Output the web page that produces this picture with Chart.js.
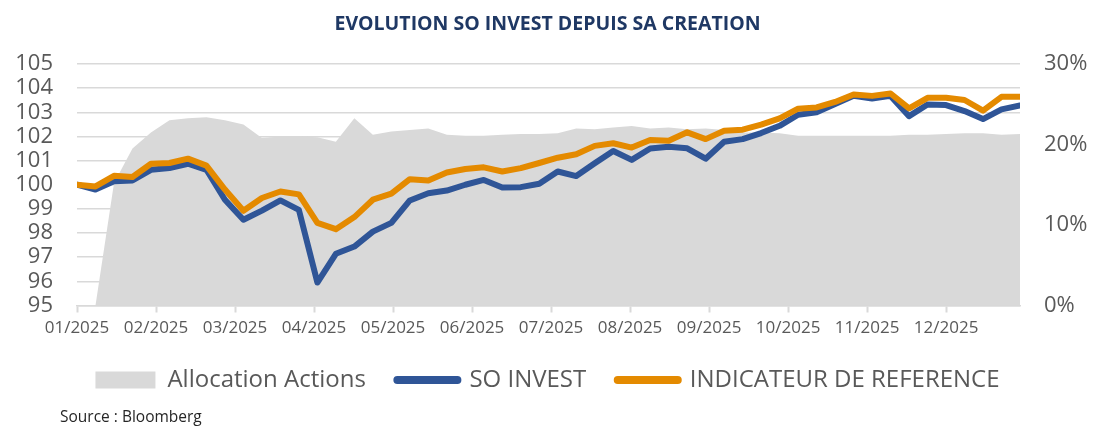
<!DOCTYPE html>
<html>
<head>
<meta charset="utf-8">
<script src="https://cdn.jsdelivr.net/npm/chart.js@4"></script>
<style>
  html, body { margin: 0; padding: 0; background: #fff; }
  #wrap { width: 1095px; height: 426px; position: relative; }
</style>
</head>
<body>
<div id="wrap"><canvas id="chart"></canvas></div>
<script>
// weekly values
const soInvest = [
    100.0, 99.8, 100.14, 100.18, 100.62, 100.69, 100.87, 100.62, 99.38, 98.55,
    98.93, 99.35, 98.96, 95.95, 97.14, 97.44, 98.06, 98.42, 99.35, 99.65,
    99.76, 100.0, 100.2, 99.89, 99.9, 100.04, 100.55, 100.36, 100.89, 101.4,
    101.03, 101.5, 101.57, 101.51, 101.08, 101.78, 101.89, 102.14, 102.44, 102.9,
    103.0, 103.34, 103.68, 103.57, 103.68, 102.84, 103.32, 103.3, 103.05, 102.72,
    103.12, 103.28
];
const indicateur = [
    100.0, 99.93, 100.37, 100.32, 100.87, 100.9, 101.08, 100.79, 99.8, 98.92,
    99.45, 99.72, 99.6, 98.42, 98.16, 98.66, 99.38, 99.63, 100.23, 100.18,
    100.51, 100.65, 100.72, 100.55, 100.69, 100.9, 101.12, 101.26, 101.61, 101.72,
    101.54, 101.85, 101.82, 102.17, 101.89, 102.24, 102.28, 102.49, 102.75, 103.15,
    103.2, 103.43, 103.74, 103.68, 103.78, 103.16, 103.6, 103.6, 103.51, 103.07,
    103.64, 103.64
];
// allocation actions in %
const allocation = [
    0, 0, 15.2, 19.5, 21.5, 23.0, 23.25, 23.4, 23.0, 22.5,
    20.8, 21.0, 21.0, 20.9, 20.35, 23.25, 21.2, 21.6, 21.8, 22.0,
    21.2, 21.1, 21.1, 21.2, 21.3, 21.3, 21.4, 22.0, 21.9, 22.1,
    22.3, 22.0, 22.1, 21.9, 22.0, 21.8, 21.5, 21.5, 21.4, 21.1,
    21.1, 21.1, 21.1, 21.1, 21.1, 21.2, 21.2, 21.3, 21.4, 21.4,
    21.2, 21.3
];
const weekIndex = soInvest.map((v, i) => i);
const monthLabels = ['01/2025', '02/2025', '03/2025', '04/2025', '05/2025', '06/2025',
    '07/2025', '08/2025', '09/2025', '10/2025', '11/2025', '12/2025'];
const WEEKS_PER_MONTH = 4.273;

const titleText = 'EVOLUTION SO INVEST DEPUIS SA CREATION';
const sourceText = 'Source : Bloomberg';

const BLUE = '#2F5597';
const ORANGE = '#E48A00';
const GRAY = '#D9D9D9';
const TEXT = '#595959';

Chart.defaults.font.family = "'Open Sans', sans-serif";

const sourcePlugin = {
    id: 'sourceNote',
    afterDraw(chart) {
        const c = chart.ctx;
        c.save();
        c.font = "15.5px 'Open Sans', sans-serif";
        c.fillStyle = '#262626';
        c.textBaseline = 'middle';
        c.textAlign = 'left';
        c.fillText(sourceText, 60, 418);
        c.restore();
    }
};

const ctx = document.getElementById('chart').getContext('2d');
new Chart(ctx, {
    type: 'line',
    data: {
        labels: weekIndex,
        datasets: [
            {
                label: 'SO INVEST',
                data: soInvest,
                yAxisID: 'y',
                borderColor: BLUE,
                backgroundColor: BLUE,
                borderWidth: 6,
                borderJoinStyle: 'round',
                borderCapStyle: 'round',
                pointRadius: 0,
                tension: 0,
                order: 2
            },
            {
                label: 'INDICATEUR DE REFERENCE',
                data: indicateur,
                yAxisID: 'y',
                borderColor: ORANGE,
                backgroundColor: ORANGE,
                borderWidth: 6,
                borderJoinStyle: 'round',
                borderCapStyle: 'round',
                pointRadius: 0,
                tension: 0,
                order: 1
            },
            {
                label: 'Allocation Actions',
                data: allocation,
                yAxisID: 'y1',
                backgroundColor: GRAY,
                borderColor: GRAY,
                borderWidth: 0,
                fill: 'origin',
                pointRadius: 0,
                tension: 0,
                order: 3
            }
        ]
    },
    options: {
        responsive: true,
        maintainAspectRatio: false,
        animation: false,
        layout: { padding: { left: 0, right: 0, top: 0, bottom: 24 } },
        plugins: {
            title: {
                display: true,
                text: titleText,
                color: '#1F3864',
                font: { size: 19.5, weight: 'bold' },
                padding: { top: 12.3, bottom: 28.3 }
            },
            legend: {
                position: 'bottom',
                labels: {
                    usePointStyle: true,
                    pointStyleWidth: 60,
                    boxHeight: 17,
                    padding: 31.5,
                    color: TEXT,
                    font: { size: 24 },
                    generateLabels: () => [
                        { text: 'Allocation Actions', fillStyle: GRAY, strokeStyle: GRAY, lineWidth: 0, pointStyle: 'rect', fontColor: TEXT, datasetIndex: 2 },
                        { text: 'SO INVEST', fillStyle: BLUE, strokeStyle: BLUE, lineWidth: 8, lineCap: 'round', pointStyle: 'line', fontColor: TEXT, datasetIndex: 0 },
                        { text: 'INDICATEUR DE REFERENCE', fillStyle: ORANGE, strokeStyle: ORANGE, lineWidth: 8, lineCap: 'round', pointStyle: 'line', fontColor: TEXT, datasetIndex: 1 }
                    ]
                }
            },
            tooltip: { enabled: false }
        },
        scales: {
            x: {
                type: 'linear',
                min: 0,
                max: weekIndex.length - 1,
                afterBuildTicks: axis => {
                    axis.ticks = monthLabels.map((m, i) => ({ value: i * WEEKS_PER_MONTH }));
                },
                afterFit: scale => { scale.height = 31; },
                ticks: {
                    autoSkip: false,
                    maxRotation: 0,
                    padding: 5,
                    color: TEXT,
                    font: { size: 17 },
                    callback: (v, i) => monthLabels[i]
                },
                grid: {
                    drawOnChartArea: false,
                    drawTicks: true,
                    tickLength: 7,
                    tickWidth: 2,
                    tickColor: GRAY
                },
                border: { display: true, color: GRAY, width: 1.5 }
            },
            y: {
                position: 'left',
                min: 95,
                max: 105,
                afterFit: scale => { scale.width = 77; },
                ticks: {
                    stepSize: 1,
                    autoSkip: false,
                    padding: 24,
                    color: TEXT,
                    font: { size: 22 }
                },
                grid: { color: GRAY, lineWidth: 1.5, drawTicks: false },
                border: { display: false }
            },
            y1: {
                position: 'right',
                min: 0,
                max: 30,
                afterFit: scale => { scale.width = 75; },
                ticks: {
                    stepSize: 10,
                    autoSkip: false,
                    padding: 24,
                    color: TEXT,
                    font: { size: 22 },
                    callback: v => v + '%'
                },
                grid: { display: false, drawTicks: false },
                border: { display: false }
            }
        }
    },
    plugins: [sourcePlugin]
});
</script>
</body>
</html>
